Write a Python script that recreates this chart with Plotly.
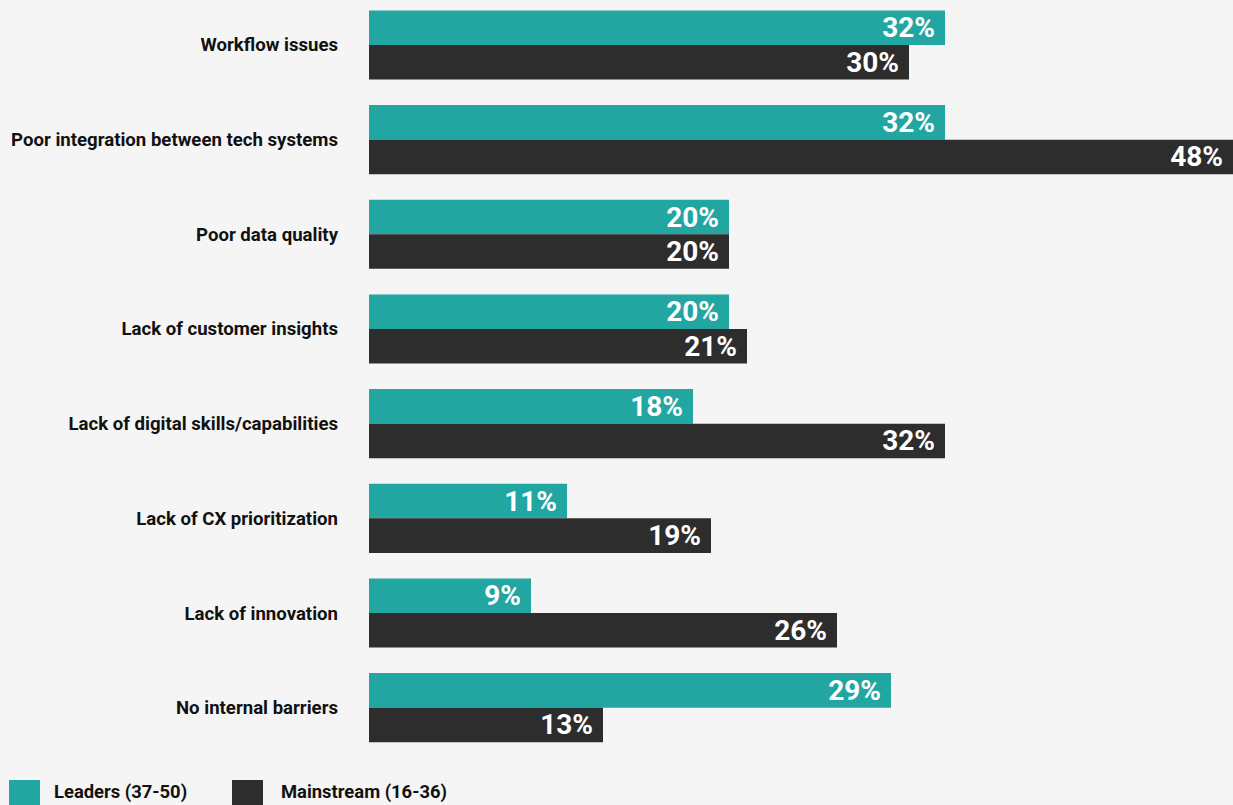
import plotly.graph_objects as go

categories = [
    "Workflow issues",
    "Poor integration between tech systems",
    "Poor data quality",
    "Lack of customer insights",
    "Lack of digital skills/capabilities",
    "Lack of CX prioritization",
    "Lack of innovation",
    "No internal barriers",
]
leaders = [32, 32, 20, 20, 18, 11, 9, 29]
mainstream = [30, 48, 20, 21, 32, 19, 26, 13]
series_names = ["Leaders (37-50)", "Mainstream (16-36)"]

TEAL = "#21a6a1"
DARK = "#2d2d2d"
BG = "#f5f5f5"
W, H = 1233, 805
ML, MR, MT, MB = 369, 0, 0, 50

fig = go.Figure()
for name, vals, col in [(series_names[0], leaders, TEAL), (series_names[1], mainstream, DARK)]:
    fig.add_trace(go.Bar(
        y=categories, x=vals, orientation="h", name=name,
        marker=dict(color=col, line=dict(width=0)),
        text=[f"{v}%\u00a0" for v in vals],
        texttemplate="%{text}",
        textposition="inside", insidetextanchor="end", textangle=0,
        constraintext="none",
        insidetextfont=dict(family="Roboto", size=28, color="white", weight="bold"),
        hoverinfo="skip", showlegend=False,
    ))

fig.update_layout(
    width=W, height=H,
    margin=dict(l=ML, r=MR, t=MT, b=MB, autoexpand=False),
    paper_bgcolor=BG, plot_bgcolor=BG,
    barmode="group", bargap=0.27, bargroupgap=0,
    font=dict(family="Roboto", color="#111111"),
    xaxis=dict(range=[0, 48], visible=False, showgrid=False, zeroline=False),
    yaxis=dict(
        categoryorder="array", categoryarray=categories,
        range=[7.5, -0.475], showgrid=False, zeroline=False, showline=False,
        ticks="", ticklabelstandoff=30,
        tickfont=dict(family="Roboto", size=18.6, color="#111111", weight="bold"),
    ),
)

# custom legend (large squares, as in the reference)
pw = W - ML - MR
ph = H - MT - MB
def px_x(p):
    return (p - ML) / pw
def px_y(p):
    return (H - MB - p) / ph

legend_items = [(9, 52, TEAL, series_names[0]), (232, 279, DARK, series_names[1])]
for sx, tx, col, label in legend_items:
    fig.add_shape(type="rect", xref="paper", yref="paper",
                  x0=px_x(sx), x1=px_x(sx + 31), y0=px_y(780), y1=px_y(811),
                  fillcolor=col, line=dict(width=0), layer="above")
    fig.add_annotation(xref="paper", yref="paper", x=px_x(tx), y=px_y(792),
                       text=label, showarrow=False, xanchor="left", yanchor="middle",
                       font=dict(family="Roboto", size=18.4, color="#111111", weight="bold"))

fig.write_html(
    "out.html",
    config={"displayModeBar": False},
    post_script="document.body.style.margin='0';document.body.style.overflow='hidden';document.body.style.background='%s';" % BG,
)
